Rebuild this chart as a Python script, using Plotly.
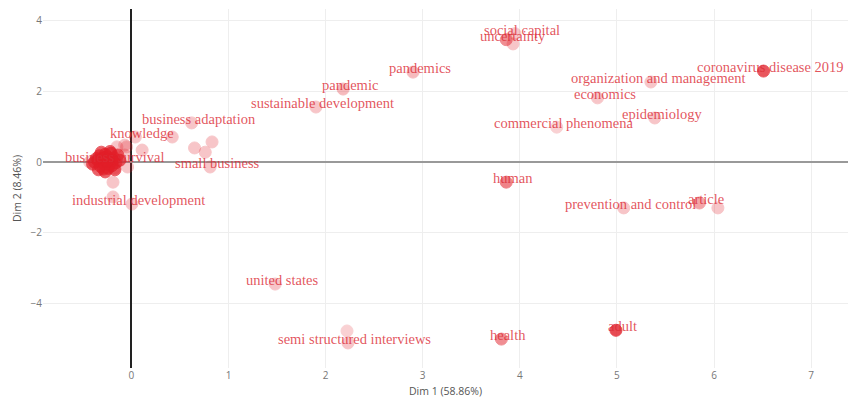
import plotly.graph_objects as go

# Labeled variables (Dim 1, Dim 2, contribution-based alpha)
labels = ["coronavirus disease 2019", "organization and management", "economics",
          "epidemiology", "commercial phenomena", "social capital", "uncertainty",
          "pandemics", "pandemic", "sustainable development", "business adaptation",
          "knowledge", "small business", "business survival", "industrial development",
          "human", "prevention and control", "article", "united states",
          "semi structured interviews", "health", "adult"]
lab_x = [6.51, 5.35, 4.80, 5.39, 4.38, 3.95, 3.86, 2.90, 2.18, 1.90, 0.62,
         0.04, 0.81, -0.25, 0.005, 3.86, 5.07, 5.85, 1.48, 2.23, 3.81, 4.99]
lab_y = [2.58, 2.27, 1.82, 1.25, 0.99, 3.64, 3.47, 2.55, 2.07, 1.56, 1.11,
         0.71, -0.14, 0.03, -1.19, -0.57, -1.30, -1.16, -3.46, -5.13, -5.02, -4.77]
lab_alpha = [0.75, 0.25, 0.25, 0.25, 0.2, 0.25, 0.5, 0.3, 0.3, 0.25, 0.25,
             0.25, 0.25, 0.55, 0.25, 0.55, 0.25, 0.4, 0.25, 0.25, 0.5, 0.8]

# Unlabeled variables
other_x = [6.04, 2.22, 3.93, 0.42, 0.65, 0.83, 0.76, -0.19, -0.19, -0.15, -0.05, 0.11,
           -0.04, -0.07, -0.17, -0.07, -0.43,
           -0.35, -0.30, -0.28, -0.25, -0.22, -0.20, -0.32, -0.38, -0.27, -0.18,
           -0.24, -0.30, -0.33, -0.21, -0.16, -0.26, -0.29, -0.36, -0.23, -0.19,
           -0.31, -0.14, -0.27, -0.40, -0.22, -0.34, -0.17, -0.12, -0.25, -0.28]
other_y = [-1.30, -4.79, 3.35, 0.71, 0.40, 0.57, 0.28, -0.57, -0.99, 0.43, 0.43, 0.34,
           -0.14, 0.48, -0.17, 0.20, 0.00,
           0.05, 0.10, -0.05, 0.15, 0.02, -0.10, -0.12, 0.00, 0.22, 0.12,
           -0.18, -0.02, 0.18, 0.25, -0.02, 0.07, -0.20, 0.10, -0.08, 0.05,
           0.28, 0.20, -0.28, -0.06, 0.30, -0.22, -0.22, 0.05, 0.00, 0.12]
other_alpha = [0.25, 0.2, 0.25, 0.25, 0.25, 0.25, 0.25, 0.25, 0.25, 0.25, 0.25, 0.25,
               0.25, 0.25, 0.25, 0.25, 0.25] + [0.7] * 30

x_title = "Dim 1 (58.86%)"
y_title = "Dim 2 (8.46%)"

RED = "rgb(226,30,40)"

fig = go.Figure()
fig.add_trace(go.Scatter(
    x=other_x + lab_x, y=other_y + lab_y, mode="markers",
    marker=dict(size=12, color=RED, opacity=other_alpha + lab_alpha,
                line=dict(color=RED, width=1)),
    hoverinfo="skip", showlegend=False))

for t, xx, yy in zip(labels, lab_x, lab_y):
    fig.add_annotation(x=xx, y=yy, text=t, showarrow=False, xshift=7, yshift=4,
                       font=dict(family="Liberation Serif", size=14.5,
                                 color="rgba(220,45,55,0.82)"))

fig.update_layout(
    width=848, height=398,
    margin=dict(l=43, r=0, t=9, b=30, autoexpand=False),
    paper_bgcolor="white", plot_bgcolor="white",
    xaxis=dict(range=[-0.911, 7.38], dtick=1, showgrid=True, gridcolor="#eeeeee",
               zeroline=True, zerolinecolor="#222222", zerolinewidth=2,
               tickfont=dict(family="Open Sans", size=10, color="#777"),
               title=dict(text=x_title, font=dict(family="Open Sans", size=10.5, color="#555"),
                          standoff=7),
               ticks="", showline=False, automargin=False),
    yaxis=dict(range=[-5.84, 4.34], dtick=2, showgrid=True, gridcolor="#eeeeee",
               zeroline=True, zerolinecolor="#999999", zerolinewidth=2,
               tickfont=dict(family="Open Sans", size=10, color="#777"),
               title=dict(text=y_title, font=dict(family="Open Sans", size=10.5, color="#555"),
                          standoff=6),
               ticks="", showline=False, automargin=False),
)

fig.write_html("out.html", config={"displayModeBar": False},
               post_script="document.body.style.margin='0';document.body.style.overflow='hidden';")
